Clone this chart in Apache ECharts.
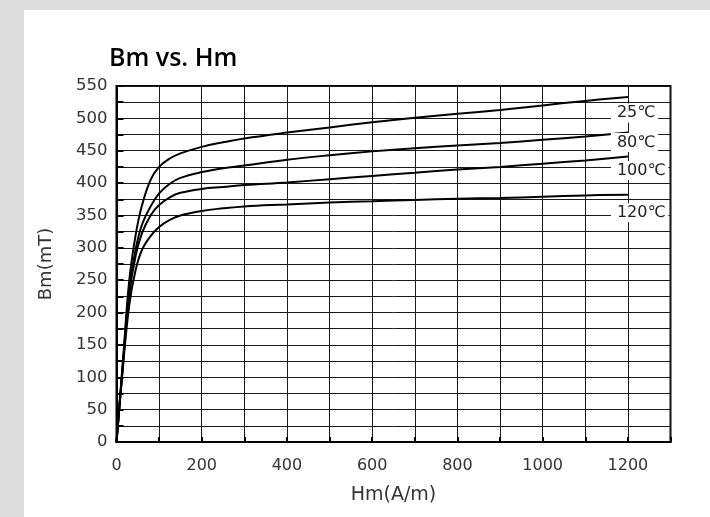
<!DOCTYPE html>
<html>
<head>
<meta charset="utf-8">
<script src="https://cdn.jsdelivr.net/npm/echarts@6/dist/echarts.min.js"></script>
<style>
  html, body { margin: 0; padding: 0; background: #dcdddc; }
  #panel { position: absolute; left: 24px; top: 10px; width: 686px; height: 507px; background: #fff; }
  #chart { position: absolute; left: 0; top: 0; width: 710px; height: 517px; }
</style>
</head>
<body>
<div id="panel"></div>
<div id="chart"></div>
<script>
// Magnetizing field samples (A/m) shared by all temperature curves
const hm = [0, 15, 30, 45, 60, 80, 100, 125, 150, 200, 250, 300, 400, 500, 600, 700, 800, 900, 1000, 1100, 1200];

// Flux density Bm (mT) at each Hm sample, per temperature
const bm25  = [0, 125, 250, 320, 366, 405, 425, 438, 446, 456, 463, 469, 478, 486, 494, 501, 507, 513, 520, 527, 533];
const bm80  = [0, 120, 235, 298, 336, 364, 384, 399, 408, 417, 423, 427, 436, 443, 449, 454, 458, 462, 467, 472, 478];
const bm100 = [0, 118, 228, 288, 323, 350, 366, 378, 385, 391, 394, 397, 401, 406, 411, 416, 421, 425, 430, 435, 441];
const bm120 = [0, 115, 212, 266, 297, 318, 332, 343, 350, 357, 361, 364, 367, 370, 372, 374, 376, 377, 379, 381, 382];

const seriesNames = ['25℃', '80℃', '100℃', '120℃'];
const seriesValues = [bm25, bm80, bm100, bm120];
const labelShiftY = [16, 10, 14, 18];

const xTickLabels = [0, 200, 400, 600, 800, 1000, 1200];
const yTickLabels = [0, 50, 100, 150, 200, 250, 300, 350, 400, 450, 500, 550];

const FONT = 'DejaVu Sans';

const chart = echarts.init(document.getElementById('chart'), null, { renderer: 'canvas' });

chart.setOption({
  animation: false,
  backgroundColor: 'transparent',
  title: {
    text: 'Bm vs. Hm',
    left: 104,
    top: 41,
    textStyle: { fontFamily: 'Open Sans', fontWeight: 600, fontSize: 25, color: '#000' }
  },
  grid: {
    left: 116.5, right: 39.5, top: 86, bottom: 75,
    show: true, borderColor: '#000', borderWidth: 2, backgroundColor: 'transparent'
  },
  xAxis: {
    type: 'value',
    min: 0, max: 1300, interval: 100,
    name: 'Hm(A/m)',
    nameLocation: 'middle',
    nameGap: 44,
    nameTextStyle: { fontFamily: FONT, fontSize: 19, color: '#333' },
    axisLine: { show: true, lineStyle: { color: '#000', width: 2 } },
    axisTick: { show: true, inside: true, length: 5, lineStyle: { color: '#000', width: 2 } },
    splitLine: { show: true, lineStyle: { color: '#1a1a1a', width: 1 } },
    axisLabel: {
      margin: 16,
      fontFamily: FONT, fontSize: 16, color: '#333',
      formatter: v => (xTickLabels.indexOf(v) >= 0 ? String(v) : '')
    }
  },
  yAxis: {
    type: 'value',
    min: 0, max: 550, interval: 25,
    name: 'Bm(mT)',
    nameLocation: 'middle',
    nameGap: 61,
    nameTextStyle: { fontFamily: FONT, fontSize: 18, color: '#333' },
    axisLine: { show: true, lineStyle: { color: '#000', width: 2 } },
    axisTick: { show: true, inside: true, length: 7, lineStyle: { color: '#000', width: 2 } },
    splitLine: { show: true, lineStyle: { color: '#1a1a1a', width: 1 } },
    axisLabel: {
      margin: 9,
      fontFamily: FONT, fontSize: 16.5, color: '#333',
      formatter: v => (yTickLabels.indexOf(v) >= 0 ? String(v) : '')
    }
  },
  series: seriesNames.map((name, i) => ({
    name: name,
    type: 'line',
    data: hm.map((h, k) => [h, seriesValues[i][k]]),
    smooth: 0.4,
    showSymbol: false,
    symbol: 'none',
    clip: false,
    lineStyle: { color: '#000', width: 2 },
    endLabel: {
      show: true,
      formatter: p => p.seriesName,
      distance: 0,
      offset: [-17, labelShiftY[i]],
      backgroundColor: '#fff',
      padding: [2, 3, 1, 6],
      fontFamily: FONT,
      fontSize: 16,
      color: '#222'
    }
  }))
});
</script>
</body>
</html>
